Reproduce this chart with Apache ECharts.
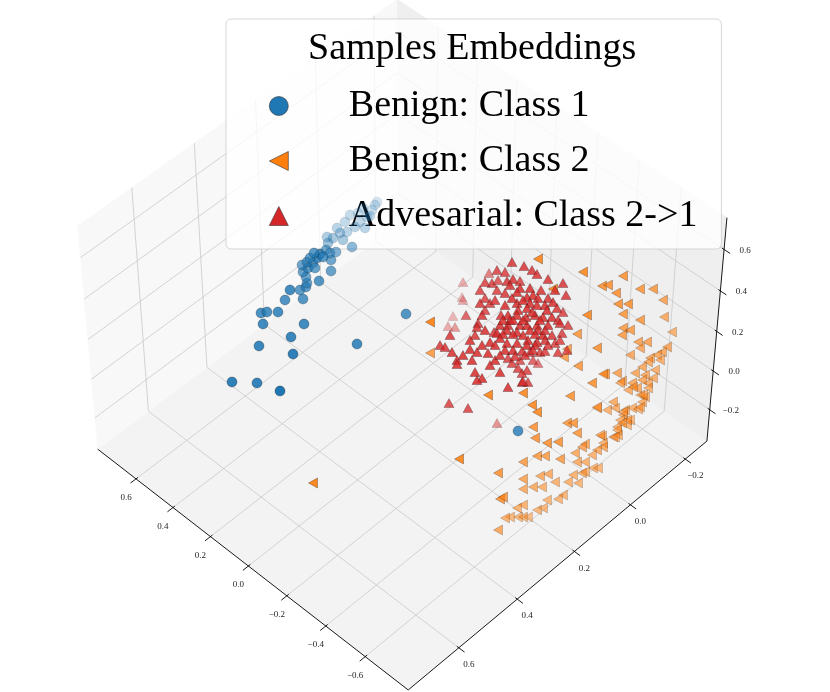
<!DOCTYPE html>
<html>
<head>
<meta charset="utf-8">
<title>Samples Embeddings</title>
<script src="https://cdn.jsdelivr.net/npm/echarts@6.0.0/dist/echarts.min.js"></script>
<style>
  html, body { margin: 0; padding: 0; background: #fff; }
  #chart { width: 830px; height: 692px; }
</style>
</head>
<body>
<div id="chart"></div>
<script>
// 3D axis ranges and ticks (A: lower-left edge, B: lower-right edge, Z: vertical)
var rangeA = [-0.815, 0.81];
var rangeB = [-0.28, 0.77];
var rangeZ = [-0.365, 0.75];
var ticksA = [-0.6, -0.4, -0.2, 0.0, 0.2, 0.4, 0.6];
var ticksB = [-0.2, 0.0, 0.2, 0.4, 0.6];
var ticksZ = [-0.2, 0.0, 0.2, 0.4, 0.6];

var seriesNames = ['Benign: Class 1', 'Benign: Class 2', 'Advesarial: Class 2->1'];

// embedded samples in the picture plane: [x, y, depth]  (depth 0 = near, 1 = far)
var benignClass1 = [
  [232,382,0.1],[257,383,0.12],[280,391,0.0],[259,346,0.15],[293,354,0.1],[291,337,0.15],
  [357,344,0.2],[406,314,0.3],[263,324,0.2],[261,313,0.25],[267,312,0.25],[278,312,0.22],
  [304,324,0.2],[285,300,0.28],[303,299,0.3],[290,290,0.2],[300,290,0.35],[306,287,0.35],
  [319,281,0.3],[331,271,0.4],[331,260,0.45],[307,283,0.4],[306,277,0.45],[303,272,0.4],
  [308,268,0.35],[302,265,0.45],[307,262,0.4],[313,263,0.45],[315,268,0.4],[317,258,0.3],
  [310,258,0.4],[320,254,0.3],[314,253,0.35],[326,250,0.5],[330,253,0.5],[336,252,0.55],
  [323,257,0.35],[328,243,0.7],[333,238,0.75],[340,233,0.8],[347,232,0.85],[352,247,0.6],
  [343,240,0.75],[355,227,0.85],[360,222,0.9],[367,217,0.9],[372,210,0.95],[375,205,0.95],
  [365,228,0.85],[327,237,0.8],[337,228,0.85],[377,202,1.0],[345,222,0.9],[350,215,0.92],
  [358,213,0.95],[363,208,0.95],[370,216,0.9],[518,431,0.25]
];

var benignClass2 = [
  [313,483,0.1],[459,459,0.15],[430,322,0.1],[430,353,0.35],[538,259,0.15],[583,272,0.2],
  [553,289,0.2],[587,315,0.2],[577,334,0.35],[488,395,0.15],[523,393,0.2],[532,405,0.2],
  [537,412,0.2],[570,396,0.3],[578,366,0.35],[592,383,0.3],[605,374,0.35],[567,349,0.4],
  [564,357,0.4],[498,473,0.3],[500,499,0.3],[498,530,0.45],[533,427,0.3],[535,438,0.3],
  [547,443,0.3],[558,442,0.3],[567,423,0.35],[573,423,0.35],[577,433,0.35],[523,462,0.4],
  [537,456,0.4],[545,456,0.4],[560,459,0.4],
  [623,276,0.3],[602,286,0.3],[608,285,0.3],[640,289,0.35],[653,289,0.4],[616,293,0.3],
  [663,300,0.45],[618,304,0.3],[628,304,0.3],[623,314,0.35],[664,317,0.5],[640,320,0.4],
  [623,328,0.4],[630,330,0.4],[622,335,0.4],[672,332,0.55],[638,342,0.45],[647,342,0.45],
  [597,348,0.3],[640,348,0.5],[630,355,0.5],[667,347,0.5],[662,352,0.5],[657,355,0.5],
  [650,358,0.5],[648,362,0.5],[660,360,0.55],[642,367,0.5],[655,370,0.55],[603,374,0.4],
  [617,373,0.45],[635,373,0.5],[645,375,0.5],[622,381,0.5],[632,383,0.5],[642,380,0.5],
  [648,383,0.55],[653,378,0.55],[628,390,0.5],[637,388,0.5],[648,388,0.55],[640,395,0.55],
  [645,397,0.55],[613,402,0.5],[642,402,0.55],[597,408,0.5],[607,410,0.55],[615,408,0.55],
  [625,410,0.55],[632,408,0.55],[638,409,0.55],[623,415,0.55],[620,420,0.55],[630,420,0.6],
  [617,427,0.55],[627,425,0.6],[602,436,0.5],[613,437,0.55],[618,435,0.55],[603,443,0.55],
  [585,444,0.5],[620,383,0.5],[633,387,0.5],[643,395,0.55],[597,407,0.5],[623,412,0.55],
  [640,407,0.55],[627,420,0.55],[622,423,0.55],[617,430,0.55],[615,437,0.55],[600,435,0.5],
  [603,447,0.5],[597,450,0.5],[582,447,0.45],[575,453,0.5],[592,455,0.55],[585,462,0.55],
  [593,468,0.6],[598,468,0.6],[577,462,0.5],[548,474,0.5],[540,476,0.5],[523,479,0.45],
  [555,482,0.55],[568,482,0.55],[578,483,0.6],[573,475,0.55],[582,473,0.55],[585,472,0.6],
  [523,489,0.5],[533,487,0.5],[542,487,0.55],[563,495,0.6],[558,499,0.6],[547,500,0.6],
  [503,497,0.35],[523,505,0.55],[517,508,0.55],[537,510,0.6],[543,508,0.6],[510,517,0.6],
  [518,517,0.6],[523,517,0.6],[528,517,0.65],[505,518,0.55]
];

var adversarialClass21 = [
  [512,262,0.25],[524,266,0.25],[532,270,0.25],[537,274,0.25],[497,270,0.3],[505,272,0.3],
  [489,273,0.55],[548,279,0.25],[563,283,0.25],[463,282,0.8],[492,283,0.3],[498,280,0.35],
  [507,281,0.25],[513,279,0.25],[520,281,0.3],[485,282,0.3],[510,285,0.25],[520,288,0.2],
  [530,288,0.2],[497,290,0.3],[517,292,0.2],[505,293,0.25],[566,295,0.25],[462,297,0.85],
  [485,298,0.3],[533,295,0.2],[527,297,0.2],[538,298,0.2],[548,298,0.25],[553,302,0.2],
  [480,303,0.25],[490,303,0.3],[530,303,0.2],[517,303,0.2],[537,305,0.2],[545,305,0.2],
  [463,300,0.8],[485,310,0.3],[518,310,0.2],[527,308,0.2],[547,310,0.2],[557,308,0.25],
  [563,312,0.3],[453,316,0.85],[466,315,0.4],[501,315,0.25],[508,315,0.2],[517,315,0.2],
  [526,317,0.2],[535,315,0.2],[543,317,0.2],[552,317,0.2],[558,320,0.25],[510,320,0.2],
  [478,323,0.25],[500,325,0.2],[508,325,0.2],[520,325,0.2],[527,325,0.2],[537,325,0.2],
  [548,325,0.2],[560,323,0.25],[568,325,0.3],[448,326,0.8],[455,327,0.7],[477,327,0.25],
  [507,330,0.2],[517,332,0.2],[530,330,0.2],[538,330,0.2],[494,332,0.25],[450,335,0.25],
  [475,335,0.25],[497,333,0.2],[503,334,0.2],[513,334,0.2],[523,335,0.2],[535,334,0.2],
  [543,335,0.2],[562,333,0.3],[500,338,0.2],[528,340,0.2],[537,342,0.2],[545,340,0.25],
  [490,342,0.2],[440,345,0.25],[445,347,0.25],[482,345,0.2],[507,343,0.2],[517,343,0.2],
  [527,345,0.2],[535,345,0.25],[495,345,0.2],[470,349,0.2],[477,352,0.2],[488,353,0.2],
  [505,350,0.2],[513,350,0.2],[522,351,0.25],[530,352,0.3],[540,352,0.3],[545,351,0.3],
  [558,352,0.3],[452,352,0.2],[567,350,0.35],[463,355,0.2],[472,360,0.2],[457,360,0.2],
  [457,364,0.2],[495,360,0.2],[508,358,0.3],[520,360,0.35],[533,360,0.4],[538,363,0.5],
  [512,363,0.3],[518,368,0.3],[527,370,0.3],[475,372,0.2],[500,372,0.2],[522,373,0.3],
  [482,378,0.2],[477,380,0.2],[522,382,0.25],[528,382,0.3],[508,387,0.2],[449,403,0.3],
  [468,408,0.3],[497,423,0.65],[523,381,0.35],
  [505,305,0.2],[512,298,0.2],[523,300,0.2],[532,312,0.2],[540,320,0.2],[513,320,0.2],
  [503,320,0.2],[523,320,0.2],[545,330,0.25],[552,335,0.25],[555,343,0.3],[548,345,0.3],
  [525,355,0.25],[515,356,0.25],[500,355,0.2],[490,365,0.2],[485,330,0.2],[470,340,0.2],
  [482,315,0.25],[495,300,0.25],[541,290,0.25],[555,290,0.25],[560,340,0.3],[533,350,0.25],
  [480,290,0.3]
];

// camera for the 3D box
var elev = 48, azim = 134, camDist = 17.5, focal = 3890, viewCenter = [402.6, 337];
var H = 0.75; // half height of the box (4:4:3 aspect)

var DEG = Math.PI / 180;
var sE = Math.sin(elev * DEG), cE = Math.cos(elev * DEG);
var sA = Math.sin(azim * DEG), cA = Math.cos(azim * DEG);
var rightVec = [-sA, cA, 0], upVec = [-sE * cA, -sE * sA, cE], eyeVec = [cE * cA, cE * sA, sE];

function dot(a, b) { return a[0] * b[0] + a[1] * b[1] + a[2] * b[2]; }
function norm(v, r) { return -1 + 2 * (v - r[0]) / (r[1] - r[0]); }
function project(p) {
  var d = camDist - dot(eyeVec, p);
  return [viewCenter[0] + focal * dot(rightVec, p) / d, viewCenter[1] - focal * dot(upVec, p) / d];
}
function flat(points) {
  var out = [];
  points.forEach(function (p) { var q = project(p); out.push(q[0], q[1]); });
  return out;
}

// panes: floor, left back wall, right back wall
var panes = [
  flat([[1, 1, -H], [-1, 1, -H], [-1, -1, -H], [1, -1, -H]]),
  flat([[1, -1, -H], [1, 1, -H], [1, 1, H], [1, -1, H]]),
  flat([[-1, -1, -H], [1, -1, -H], [1, -1, H], [-1, -1, H]])
];
var paneColors = ['#f3f3f3', '#f8f8f8', '#efefef'];

var gridSegs = [], axisSegs = [], tickLabels = [], tickTexts = [];
function addSeg(list, p, q) { list.push(flat([p, q])); }

ticksA.forEach(function (t) {
  var a = norm(t, rangeA);
  addSeg(gridSegs, [a, -1, -H], [a, 1, -H]);
  addSeg(gridSegs, [a, -1, -H], [a, -1, H]);
  addSeg(axisSegs, [a, 1 - 0.012, -H], [a, 1 + 0.035, -H]);
  var base = project([a, 1, -H]);
  tickLabels.push([base[0] - 10, base[1] + 19]);
  tickTexts.push(t);
});
ticksB.forEach(function (t) {
  var b = norm(t, rangeB);
  addSeg(gridSegs, [-1, b, -H], [1, b, -H]);
  addSeg(gridSegs, [1, b, -H], [1, b, H]);
  addSeg(axisSegs, [-1 + 0.012, b, -H], [-1 - 0.035, b, -H]);
  var base = project([-1, b, -H]);
  tickLabels.push([base[0] + 10, base[1] + 17]);
  tickTexts.push(t);
});
ticksZ.forEach(function (t) {
  var z = H * norm(t, rangeZ);
  addSeg(gridSegs, [1, -1, z], [1, 1, z]);
  addSeg(gridSegs, [-1, -1, z], [1, -1, z]);
  addSeg(axisSegs, [-1 + 0.012, -1, z], [-1 - 0.035, -1, z]);
  var base = project([-1, -1, z]);
  tickLabels.push([base[0] + 21, base[1] + 1]);
  tickTexts.push(t);
});
addSeg(axisSegs, [1, 1, -H], [-1, 1, -H]);
addSeg(axisSegs, [-1, 1, -H], [-1, -1, -H]);
addSeg(axisSegs, [-1, -1, -H], [-1, -1, H]);

function fmtTick(v) {
  var s = Math.abs(v).toFixed(1);
  return v < 0 ? '\u2212' + s : s;
}

function segRenderer(color, width) {
  return function (params, api) {
    var p = api.coord([api.value(0), api.value(1)]);
    var q = api.coord([api.value(2), api.value(3)]);
    return { type: 'line', shape: { x1: p[0], y1: p[1], x2: q[0], y2: q[1] },
             style: { stroke: color, lineWidth: width } };
  };
}

var triLeft = 'path://M0,50 L100,0 L100,100 Z';
var triUp = 'path://M50,0 L100,100 L0,100 Z';

var chart = echarts.init(document.getElementById('chart'), null, { renderer: 'canvas' });

var markerEdge = 'rgba(0,0,0,0.6)';
var option = {
  animation: false,
  backgroundColor: '#ffffff',
  grid: { left: 0, right: 0, top: 0, bottom: 0 },
  xAxis: { type: 'value', min: 0, max: 830, show: false },
  yAxis: { type: 'value', min: 0, max: 692, inverse: true, show: false },
  title: {
    text: 'Samples Embeddings',
    left: 308, top: 30, padding: 0,
    textStyle: { fontFamily: 'Liberation Serif', fontSize: 38, fontWeight: 'normal', color: '#000' }
  },
  legend: {
    orient: 'vertical', left: 226, top: 19,
    padding: [67, 24, 13, 43],
    itemWidth: 66, itemHeight: 19, itemGap: 15,
    backgroundColor: 'rgba(255,255,255,0.8)',
    borderColor: 'rgba(204,204,204,0.8)', borderWidth: 1, borderRadius: 5,
    textStyle: { fontFamily: 'Liberation Serif', fontSize: 38, color: '#000', lineHeight: 40, padding: [0, 0, 0, 32] },
    data: [
      { name: seriesNames[0], icon: 'circle', itemStyle: { color: '#1f77b4', borderColor: '#333', borderWidth: 0.6, opacity: 1 } },
      { name: seriesNames[1], icon: triLeft, itemStyle: { color: '#ff7f0e', borderColor: '#333', borderWidth: 0.6, opacity: 1 } },
      { name: seriesNames[2], icon: triUp, itemStyle: { color: '#d62728', borderColor: '#333', borderWidth: 0.6, opacity: 1 } }
    ]
  },
  visualMap: {
    type: 'continuous', show: false, dimension: 2, min: 0, max: 1,
    seriesIndex: [4, 5, 6],
    inRange: { opacity: [1, 0.18] }
  },
  series: [
    {
      type: 'custom', silent: true, z: 1, data: panes,
      encode: { x: [0, 2, 4, 6], y: [1, 3, 5, 7] },
      renderItem: function (params, api) {
        var pts = [];
        for (var i = 0; i < 4; i++) pts.push(api.coord([api.value(2 * i), api.value(2 * i + 1)]));
        return { type: 'polygon', shape: { points: pts },
                 style: { fill: paneColors[params.dataIndex], stroke: paneColors[params.dataIndex], lineWidth: 0.5 } };
      }
    },
    {
      type: 'custom', silent: true, z: 2, data: gridSegs,
      encode: { x: [0, 2], y: [1, 3] },
      renderItem: segRenderer('#c9c9c9', 0.8)
    },
    {
      type: 'custom', silent: true, z: 3, data: axisSegs,
      encode: { x: [0, 2], y: [1, 3] },
      renderItem: segRenderer('#000000', 0.9)
    },
    {
      type: 'custom', silent: true, z: 3, data: tickLabels,
      encode: { x: 0, y: 1 },
      renderItem: function (params, api) {
        var p = api.coord([api.value(0), api.value(1)]);
        return { type: 'text', x: p[0], y: p[1],
                 style: { text: fmtTick(tickTexts[params.dataIndex]), fill: '#262626',
                          font: '9px "Liberation Serif"', align: 'center', verticalAlign: 'middle' } };
      }
    },
    {
      name: seriesNames[0], type: 'scatter', z: 5, data: benignClass1,
      symbol: 'circle', symbolSize: 10,
      itemStyle: { color: '#1f77b4', borderColor: markerEdge, borderWidth: 0.5 }
    },
    {
      name: seriesNames[1], type: 'scatter', z: 6, data: benignClass2,
      symbol: triLeft, symbolSize: [9, 10],
      itemStyle: { color: '#ff7f0e', borderColor: markerEdge, borderWidth: 0.5 }
    },
    {
      name: seriesNames[2], type: 'scatter', z: 7, data: adversarialClass21,
      symbol: triUp, symbolSize: [10, 9],
      itemStyle: { color: '#d62728', borderColor: markerEdge, borderWidth: 0.5 }
    }
  ]
};

chart.setOption(option);
</script>
</body>
</html>
